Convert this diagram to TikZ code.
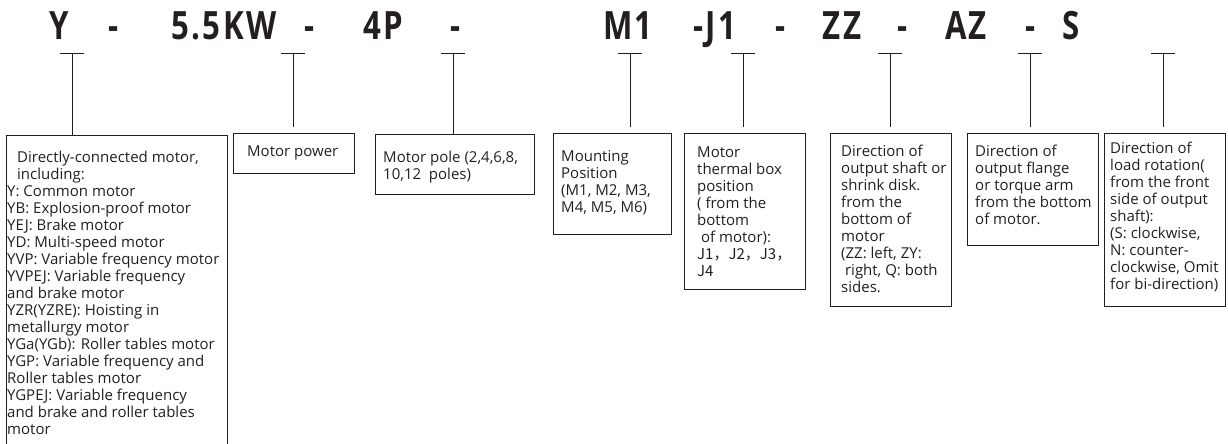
\documentclass[tikz,border=0pt]{standalone}
\usepackage{fontspec}
\setmainfont{Open Sans}
\newfontfamily\hdrfont{Open Sans}[FakeStretch=0.8,LetterSpace=6]
\newfontfamily\cjkfont{Noto Sans CJK SC}
\definecolor{ink}{RGB}{35,31,32}
\begin{document}
\begin{tikzpicture}[x=1pt,y=1pt,
  hdr/.style={anchor=base,inner sep=0,text=ink,font=\hdrfont\bfseries\fontsize{39}{39}\selectfont},
  tline/.style={draw=ink,line width=1pt},
  box/.style={draw=ink,line width=1.2pt,inner sep=0,anchor=north west},
  txt/.style={anchor=north west,inner sep=0,align=left,text=ink,font=\fontsize{15}{17}\selectfont}]
\useasboundingbox (0,0) rectangle (1228,444);
\clip (0,0) rectangle (1228,444);
% header
\node[hdr] (hY) at (59,404) {Y};
\node[hdr] (d1) at (114,404) {-};
\node[hdr] (hKW) at (224,404) {5.5KW};
\node[hdr] (d2) at (310,404) {-};
\node[hdr] (hP) at (383,404) {4P};
\node[hdr] (d3) at (456,404) {-};
\node[hdr] (hM) at (628,404) {M1};
\node[hdr] (hJ) at (715,404) {-J1};
\node[hdr] (d4) at (781,404) {-};
\node[hdr] (hZZ) at (842,404) {ZZ};
\node[hdr] (d5) at (903,404) {-};
\node[hdr] (hAZ) at (966,404) {AZ};
\node[hdr] (d6) at (1031,404) {-};
\node[hdr] (hS) at (1071,404) {S};
% boxes
\node[box,minimum width=221,minimum height=340] (b1) at (6,309) {};
\node[box,minimum width=121,minimum height=40] (b2) at (233,311) {};
\node[box,minimum width=159,minimum height=60] (b3) at (375,310) {};
\node[box,minimum width=118,minimum height=101] (b4) at (553,311) {};
\node[box,minimum width=121,minimum height=156] (b5) at (684,311) {};
\node[box,minimum width=121,minimum height=173] (b6) at (830,311) {};
\node[box,minimum width=131,minimum height=112] (b7) at (967,311) {};
\node[box,minimum width=121,minimum height=173] (b8) at (1104,311) {};
% T markers
\foreach \n/\x in {1/72,2/293,3/453,4/630,5/743,6/890,7/1030,8/1163}{
  \coordinate (t\n) at (\x,390);
  \draw[tline] ([xshift=-12]t\n) -- ([xshift=12]t\n);
}
\draw[tline] (t1) -- (t1 |- b1.north);
\draw[tline] (t2) -- ([yshift=6]t2 |- b2.north);
\draw[tline] (t3) -- (t3 |- b3.north);
\draw[tline] (t4) -- ([yshift=6]t4 |- b4.north);
\draw[tline] (t5) -- ([yshift=6]t5 |- b5.north);
\draw[tline] (t6) -- ([yshift=6]t6 |- b6.north);
\draw[tline] (t7) -- ([yshift=6]t7 |- b7.north);
\draw[tline] (t8) -- ([yshift=6]t8 |- b8.north);
% texts
\node[txt] (x1) at ([shift={(1,-15.1)}]b1.north west) {\strut\hspace*{10pt}Directly-connected motor,\\
\hspace*{10pt}including:\\
Y: Common motor\\
YB: Explosion-proof motor\\
YEJ: Brake motor\\
YD: Multi-speed motor\\
YVP: Variable frequency motor\\
YVPEJ: Variable frequency\\
and brake motor\\
YZR(YZRE): Hoisting in\\
metallurgy motor\\
YGa(YGb): Roller tables motor\\
YGP: Variable frequency and\\
Roller tables motor\\
YGPEJ: Variable frequency\\
and brake and roller tables\\
motor};
\node[txt] (x2) at ([shift={(14,-11.1)}]b2.north west) {\strut Motor power};
\node[txt] (x3) at ([shift={(8,-16.1)}]b3.north west) {\strut Motor pole (2,4,6,8,\\10,12\ \ poles)};
\node[txt] (x4) at ([shift={(8,-16.1)}]b4.north west) {\strut Mounting\\Position\\(M1, M2, M3,\\M4, M5, M6)};
\node[txt] (x5) at ([shift={(13,-12.1)}]b5.north west) {\strut Motor\\thermal box\\position\\( from the\\bottom\\\ of motor):\\{\cjkfont J1，J2，J3，}\\{\cjkfont J4}};
\node[txt] (x6) at ([shift={(11,-11.1)}]b6.north west) {\strut Direction of\\output shaft or\\shrink disk.\\from the\\bottom of\\motor\\(ZZ: left, ZY:\\\ right, Q: both\\sides.};
\node[txt] (x7) at ([shift={(8,-11.1)}]b7.north west) {\strut Direction of\\output flange\\or torque arm\\from the bottom\\of motor.};
\node[txt] (x8) at ([shift={(6,-8.1)}]b8.north west) {\strut Direction of\\load rotation(\\from the front\\side of output\\shaft):\\(S: clockwise,\\N: counter-\\clockwise, Omit\\for bi-direction)};
\end{tikzpicture}
\end{document}
